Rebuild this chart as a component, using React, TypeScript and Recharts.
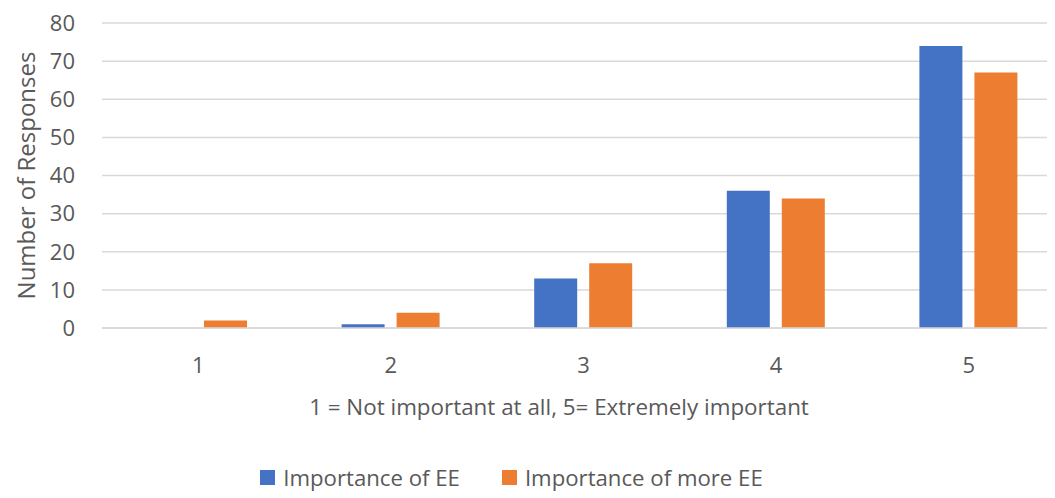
import React from 'react';
import { BarChart, Bar, XAxis, YAxis, CartesianGrid, Legend } from 'recharts';

const categories = ['1', '2', '3', '4', '5'];
const importanceOfEE = [0, 1, 13, 36, 74];
const importanceOfMoreEE = [2, 4, 17, 34, 67];
const yTicks = [0, 10, 20, 30, 40, 50, 60, 70, 80];

const seriesNames = ['Importance of EE', 'Importance of more EE'];
const xTitle = '1 = Not important at all, 5= Extremely important';
const yTitle = 'Number of Responses';

const data = categories.map((c, i) => ({
  cat: c,
  ee: importanceOfEE[i],
  moreEE: importanceOfMoreEE[i],
}));

const FONT = '"Open Sans", sans-serif';
const TEXT = '#595959';
const GRID = '#d9d9d9';
const BLUE = '#4472C4';
const ORANGE = '#ED7D31';

const renderLegend = (props: any) => {
  const payload = props.payload || [];
  return (
    <div
      style={{
        display: 'flex',
        justifyContent: 'center',
        alignItems: 'center',
        height: 30,
        paddingRight: 50,
        fontFamily: FONT,
        fontSize: 22.2,
        color: TEXT,
      }}
    >
      {payload.map((entry: any, i: number) => (
        <div
          key={i}
          style={{ display: 'flex', alignItems: 'center', marginLeft: i === 0 ? 0 : 42 }}
        >
          <span
            style={{ display: 'inline-block', width: 15, height: 15, background: entry.color, marginRight: 8 }}
          />
          <span>{entry.value}</span>
        </div>
      ))}
    </div>
  );
};

const YTitle = (props: any) => {
  const vb = props.viewBox || {};
  const x = 17;
  const y = vb.y + vb.height / 2;
  return (
    <text
      x={x}
      y={y}
      transform={`rotate(-90, ${x}, ${y})`}
      textAnchor="middle"
      dominantBaseline="central"
      fill={TEXT}
      fontSize={24}
      fontFamily={FONT}
    >
      {yTitle}
    </text>
  );
};

const XTitle = (props: any) => {
  const vb = props.viewBox || {};
  const x = vb.x + vb.width / 2 - 24.5;
  const y = vb.y + 87;
  return (
    <text x={x} y={y} textAnchor="middle" fill={TEXT} fontSize={22.4} fontFamily={FONT}>
      {xTitle}
    </text>
  );
};

export default function App() {
  return (
    <div style={{ width: 1047, height: 490, overflow: 'hidden' }}>
      <BarChart
        width={1057}
        height={490}
        data={data}
        margin={{ top: 15, right: 0, bottom: 6, left: 0 }}
        barGap={12}
        barSize={43}
      >
        <CartesianGrid vertical={false} stroke={GRID} strokeWidth={1.5} />
        <XAxis
          dataKey="cat"
          height={134}
          axisLine={{ stroke: GRID, strokeWidth: 1.5 }}
          tickLine={false}
          tickSize={0}
          tickMargin={29}
          tick={{ fill: TEXT, fontSize: 22, fontFamily: FONT }}
          label={XTitle}
        />
        <YAxis
          width={94}
          domain={[0, 80]}
          ticks={yTicks}
          axisLine={false}
          tickLine={false}
          tickSize={0}
          tickMargin={27}
          tick={{ fill: TEXT, fontSize: 22, fontFamily: FONT }}
          label={YTitle}
        />
        <Legend verticalAlign="bottom" content={renderLegend} />
        <Bar dataKey="ee" name={seriesNames[0]} fill={BLUE} isAnimationActive={false} />
        <Bar dataKey="moreEE" name={seriesNames[1]} fill={ORANGE} isAnimationActive={false} />
      </BarChart>
    </div>
  );
}
